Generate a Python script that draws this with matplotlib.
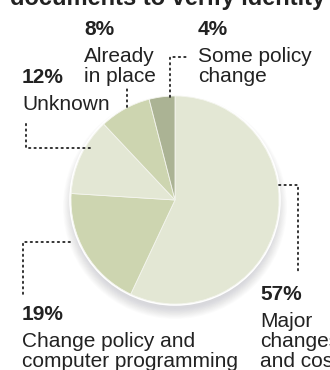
import matplotlib.pyplot as plt
from matplotlib.patches import Circle

plt.rcParams['font.family'] = ['Liberation Sans', 'DejaVu Sans']

# data
pcts = [57, 19, 12, 8, 4]
labels = ["Major\nchanges\nand cost", "Change policy and\ncomputer programming",
          "Unknown", "Already\nin place", "Some policy\nchange"]
colors = ['#e3e7d4', '#cdd5b0', '#e3e7d4', '#cdd5b0', '#abb394']
title = "documents to verify identity"

# layout in pixels (origin top left): text x, percent baseline, first label baseline
text_pos = [(260, 300, 327), (22, 320, 347), (22, 83, 110), (84, 35, 62), (198, 35, 62)]
leaders = [
    [(279, 185), (298, 185), (298, 273)],
    [(70, 242), (23, 242), (23, 295)],
    [(90, 148), (26, 148), (26, 122)],
    [(127, 107), (127, 88)],
    [(170, 97), (170, 57), (188, 57)],
]
cx, cy, r = 175, 200, 104

fig = plt.figure(figsize=(3.3, 3.7), dpi=100)
ax = fig.add_axes([0, 0, 1, 1])

# soft shadow under the pie, then a thin white rim
for k in range(14):
    ax.add_patch(Circle((cx, cy + 7), r + 8 - k * 0.8, color='#8a8a95',
                        alpha=0.022, lw=0, zorder=1))
ax.add_patch(Circle((cx, cy), r + 1.8, color='white', lw=0, zorder=1.5))

# y axis is flipped below, so counterclock in data runs clockwise on screen
wedges, _ = ax.pie(pcts, colors=colors, startangle=-90, counterclock=True,
                   center=(cx, cy), radius=r,
                   wedgeprops=dict(edgecolor='#f4f5ee', linewidth=0.6, zorder=2))

ax.set_xlim(0, 330)
ax.set_ylim(370, 0)
ax.set_aspect('equal')
ax.axis('off')

for pts in leaders:
    xs, ys = zip(*pts)
    ax.plot(xs, ys, color='#222222', lw=1.3, linestyle=(0, (0.8, 2.2)),
            solid_capstyle='round', dash_capstyle='round', zorder=3)

for p, lab, (tx, py, ly) in zip(pcts, labels, text_pos):
    ax.text(tx, py, f"{p}%", fontsize=15, fontweight='bold', color='#222222',
            ha='left', va='baseline')
    for i, line in enumerate(lab.split('\n')):
        ax.text(tx, ly + i * 20, line, fontsize=15, color='#222222',
                ha='left', va='baseline')

ax.text(168, 5, title, fontsize=17, fontweight='bold', color='#222222',
        ha='center', va='baseline')

fig.savefig('out.png', dpi=100)
